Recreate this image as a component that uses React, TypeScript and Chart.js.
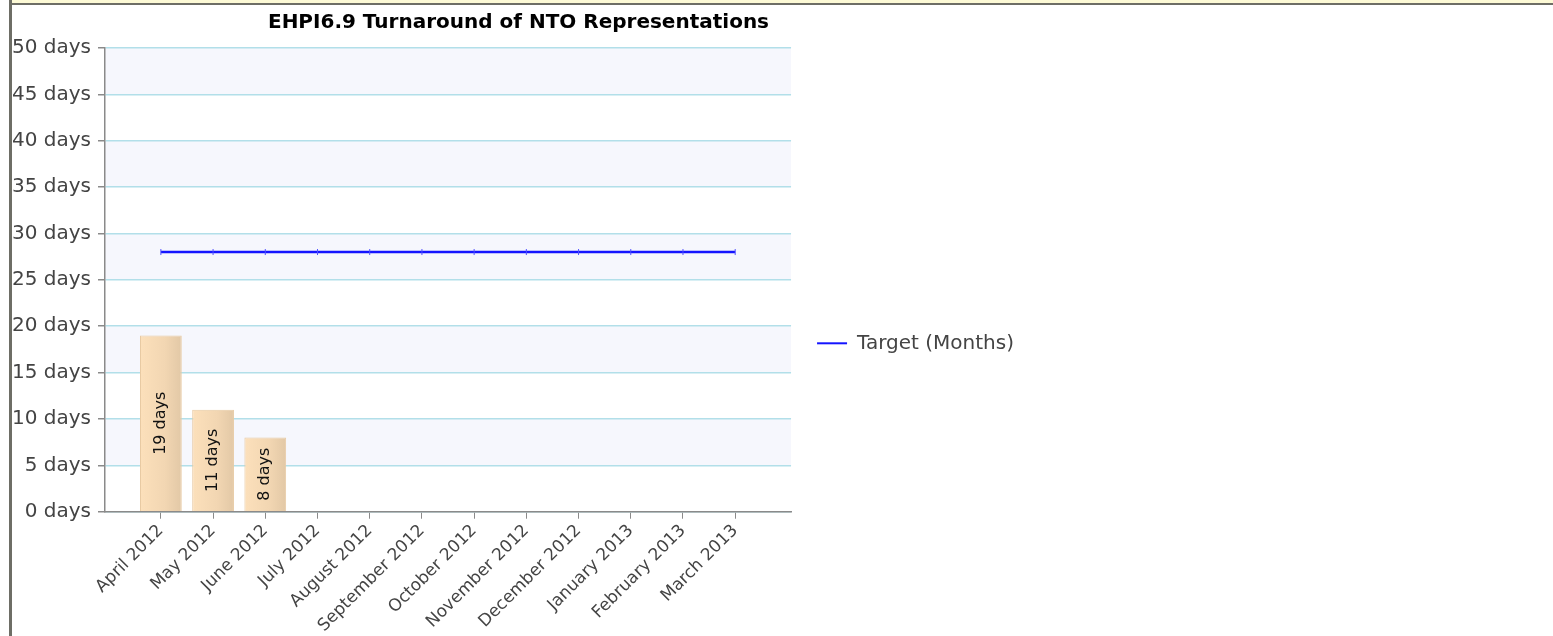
import React, { useEffect, useRef } from "react";
import { Chart, registerables } from "chart.js";

Chart.register(...registerables);

const chartTitle = "EHPI6.9 Turnaround of NTO Representations";
const categories = [
  "April 2012",
  "May 2012",
  "June 2012",
  "July 2012",
  "August 2012",
  "September 2012",
  "October 2012",
  "November 2012",
  "December 2012",
  "January 2013",
  "February 2013",
  "March 2013",
];
const actualDays: (number | null)[] = [19, 11, 8, null, null, null, null, null, null, null, null, null];
const targetDays = [28, 28, 28, 28, 28, 28, 28, 28, 28, 28, 28, 28];
const targetLabel = "Target (Months)";
const yMin = 0;
const yMax = 50;
const yStep = 5;
const unit = "days";

const FONT = "'DejaVu Sans', Verdana, sans-serif";

const bandsPlugin = {
  id: "bands",
  beforeDraw(chart: any) {
    const { ctx, chartArea, scales } = chart;
    const y = scales.y;
    ctx.save();
    ctx.fillStyle = "#f6f7fd";
    for (let v = yMin + yStep; v < yMax; v += yStep * 2) {
      const top = y.getPixelForValue(v + yStep);
      const bottom = y.getPixelForValue(v);
      ctx.fillRect(chartArea.left, top, chartArea.right - chartArea.left, bottom - top);
    }
    ctx.restore();
  },
};

const barLabelPlugin = {
  id: "barLabels",
  afterDatasetsDraw(chart: any) {
    const { ctx } = chart;
    const meta = chart.getDatasetMeta(0);
    ctx.save();
    ctx.fillStyle = "#111";
    ctx.font = `16px ${FONT}`;
    ctx.textAlign = "center";
    ctx.textBaseline = "middle";
    meta.data.forEach((el: any, i: number) => {
      const v = actualDays[i];
      if (v == null) return;
      const cy = (el.y + el.base) / 2;
      ctx.save();
      ctx.translate(el.x, cy);
      ctx.rotate(-Math.PI / 2);
      ctx.fillText(`${v} ${unit}`, 0, 0);
      ctx.restore();
    });
    ctx.restore();
  },
};

export default function App() {
  const ref = useRef<HTMLCanvasElement>(null);

  useEffect(() => {
    if (!ref.current) return;
    const chart = new Chart(ref.current, {
      type: "bar",
      data: {
        datasets: [
          {
            type: "bar",
            label: "Actual",
            data: actualDays.map((v, i) => ({ x: i, y: v })) as any,
            backgroundColor: (c: any) => {
              const xs = c.chart.scales?.x;
              if (!xs || !c.chart.chartArea) return "#f3d6b1";
              const cx = xs.getPixelForValue(c.dataIndex);
              const g = c.chart.ctx.createLinearGradient(cx - 21, 0, cx + 21, 0);
              g.addColorStop(0, "#fce0bb");
              g.addColorStop(0.6, "#f2d6b2");
              g.addColorStop(1, "#e2c8a6");
              return g;
            },
            borderColor: "#e8caa3",
            borderWidth: 1,
            barPercentage: 1,
            categoryPercentage: 0.8,
            order: 2,
          },
          {
            type: "line",
            label: targetLabel,
            data: targetDays.map((v, i) => ({ x: i, y: v })) as any,
            borderColor: "#1414ff",
            borderWidth: 2.5,
            pointStyle: "line",
            pointRotation: 90,
            pointRadius: 3,
            pointBorderColor: "#5050ff",
            pointBorderWidth: 1,
            pointHoverRadius: 3,
            order: 1,
          },
        ],
      },
      options: {
        animation: false,
        responsive: false,
        maintainAspectRatio: false,
        layout: { padding: { left: 0, right: 6, top: 2, bottom: 0 } },
        plugins: {
          title: {
            display: true,
            text: chartTitle,
            color: "#000",
            font: { family: FONT, size: 20, weight: "bold" },
            padding: { top: 4, bottom: 13 },
          },
          legend: {
            position: "right",
            title: {
              display: true,
              text: " ",
              font: { family: FONT, size: 18 },
              padding: 10,
            },
            labels: {
              color: "#444",
              font: { family: FONT, size: 20 },
              padding: 26,
              usePointStyle: true,
              pointStyleWidth: 30,
              generateLabels: () => [
                {
                  text: targetLabel,
                  fillStyle: "#1414ff",
                  strokeStyle: "#1414ff",
                  lineWidth: 2,
                  pointStyle: "line",
                  rotation: 0,
                  hidden: false,
                  datasetIndex: 1,
                  fontColor: "#444",
                } as any,
              ],
            },
          },
          tooltip: { enabled: false },
        },
        scales: {
          x: {
            type: "linear",
            offset: false,
            min: -1.07,
            max: 12.07,
            afterBuildTicks: (scale: any) => {
              scale.ticks = categories.map((_, i) => ({ value: i }));
            },
            afterFit: (scale: any) => {
              scale.paddingLeft = 0;
            },
            ticks: {
              autoSkip: false,
              maxRotation: 45,
              minRotation: 45,
              padding: 2,
              color: "#444",
              font: { family: FONT, size: 17 },
              callback: (v: any) => categories[v as number] ?? "",
            },
            grid: {
              offset: false,
              drawOnChartArea: false,
              drawTicks: true,
              tickLength: 7,
              tickColor: "#8a8a8a",
            },
            border: { color: "#8a8a8a", width: 1.5 },
          },
          y: {
            min: yMin,
            max: yMax,
            afterFit: (scale: any) => {
              scale.width = 92;
            },
            ticks: {
              stepSize: yStep,
              color: "#444",
              font: { family: FONT, size: 20 },
              padding: 7,
              callback: (v: any) => `${v} ${unit}`,
            },
            grid: {
              color: "#b2dfe9",
              lineWidth: 1.5,
              tickColor: "#8a8a8a",
              tickLength: 7,
            },
            border: { color: "#8a8a8a", width: 1.5 },
          },
        },
      },
      plugins: [bandsPlugin, barLabelPlugin],
    } as any);
    return () => chart.destroy();
  }, []);

  return (
    <div
      style={{
        position: "fixed",
        left: 0,
        top: 0,
        width: 1553,
        height: 636,
        background: "#fff",
        overflow: "hidden",
      }}
    >
      <div style={{ position: "absolute", left: 12, top: 0, right: 0, height: 3, background: "#fdfad6" }} />
      <div style={{ position: "absolute", left: 12, top: 3, right: 0, height: 2, background: "#6e6e66" }} />
      <div style={{ position: "absolute", left: 9, top: 0, width: 3, height: 636, background: "#6e6e66" }} />
      <canvas
        ref={ref}
        width={1017}
        height={633}
        style={{ position: "absolute", left: 13, top: 5, width: 1017, height: 633 }}
      />
    </div>
  );
}
